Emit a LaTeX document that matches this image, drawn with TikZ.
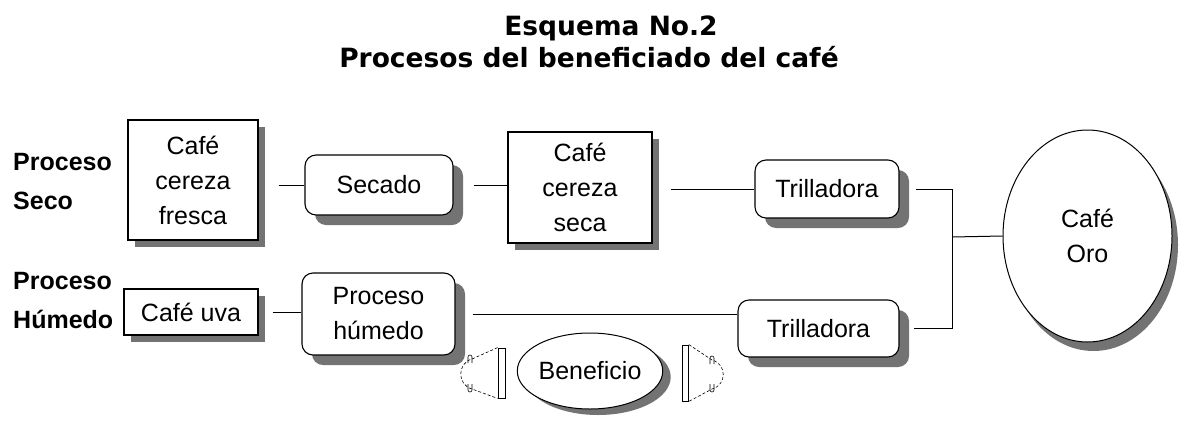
\documentclass[tikz,border=0pt]{standalone}
\usepackage{fontspec}
\setmainfont{Liberation Sans}
\newfontfamily\titlefont{DejaVu Sans}
\usetikzlibrary{shapes.geometric,shadows}
\definecolor{shadowgray}{gray}{0.45}
\begin{document}
\begin{tikzpicture}[x=1pt,y=-1pt,
  txt/.style={font=\fontsize{25}{35}\selectfont, align=center, inner sep=0pt},
  lab/.style={font=\bfseries\fontsize{25}{39}\selectfont, align=left, inner sep=0pt, anchor=west},
  ttl/.style={font=\titlefont\bfseries\fontsize{26.5}{30}\selectfont, inner sep=0pt, anchor=base},
  sqbox/.style={txt, draw, line width=1.1pt, fill=white,
    drop shadow={shadow xshift=7pt, shadow yshift=-7pt, fill=shadowgray, opacity=1}},
  rbox/.style={txt, draw, line width=1.1pt, fill=white, rounded corners=11pt,
    drop shadow={shadow xshift=10pt, shadow yshift=-10pt, fill=shadowgray, opacity=1}},
  ellbox/.style={txt, draw, line width=1pt, fill=white, ellipse, inner sep=0pt},
  thinbar/.style={draw, line width=0.8pt, fill=white, inner sep=0pt},
  conn/.style={line width=1pt},
  dashline/.style={line width=0.6pt, densely dashed},
  tipmark/.style={line width=0.6pt}
]
\useasboundingbox (0,0) rectangle (1180,421);

% title
\node[ttl] (tit1) at (611,35) {Esquema No.2};
\node[ttl] (tit2) at (589,67) {Procesos del beneficiado del café};

% row labels
\node[lab] (lseco) at (13,182) {Proceso\\Seco};
\node[lab] (lhum) at (13,301) {Proceso\\Húmedo};

% dry process
\node[sqbox, minimum width=130pt, minimum height=120pt] (b1) at (193,180) {Café\\cereza\\fresca};
\node[rbox, minimum width=148pt, minimum height=60pt] (sec) at (379,185) {Secado};
\node[sqbox, minimum width=144pt, minimum height=111pt] (seca) at (580,187.5) {Café\\cereza\\seca};
\node[rbox, minimum width=144pt, minimum height=58pt] (t1) at (827,189) {Trilladora};

% wet process
\node[sqbox, minimum width=134pt, minimum height=46pt] (uva) at (191,312) {Café uva};
\node[rbox, minimum width=153pt, minimum height=82pt] (ph) at (378.5,314) {Proceso\\húmedo};
\node[rbox, minimum width=161pt, minimum height=57pt] (t2) at (818.5,328.5) {Trilladora};

% final product
\node[ellbox, minimum width=169pt, minimum height=212pt,
  drop shadow={shadow xshift=6pt, shadow yshift=-9pt, fill=shadowgray, opacity=1}] (oro) at (1087.5,236) {Café\\Oro};

% beneficio
\node[ellbox, minimum width=124pt, minimum height=76pt,
  drop shadow={shadow xshift=8pt, shadow yshift=-6pt, fill=shadowgray, opacity=1}] (ben) at (590,371) {Beneficio};
\node[thinbar, minimum width=7pt, minimum height=50pt] (rl) at (501.5,373) {};
\node[thinbar, minimum width=6pt, minimum height=56pt] (rr) at (685.5,373) {};
\coordinate (la1) at (472,359);
\coordinate (la2) at (472,389);
\coordinate (ra1) at (712,360);
\coordinate (ra2) at (712,389);
\draw[dashline] (rl.north west) -- (la1) .. controls (457,363) and (457,385) .. (la2) -- (rl.south west);
\draw[dashline] (rr.north east) -- (ra1) .. controls (727,364) and (727,385) .. (ra2) -- (rr.south east);
% small marks at the curl ends
\draw[tipmark] (468,363) -- (468,357) arc[start angle=180, end angle=0, radius=2pt] -- (472,363);
\draw[tipmark] (468,384) -- (468,390) arc[start angle=180, end angle=360, radius=2pt] -- (472,384);
\draw[tipmark] (710,364) -- (710,358) arc[start angle=180, end angle=0, radius=2pt] -- (714,364);
\draw[tipmark] (710,384) -- (710,390) arc[start angle=180, end angle=360, radius=2pt] -- (714,384);

% connectors
\draw[conn] ([xshift=20pt]b1.east |- sec.west) -- (sec.west);
\draw[conn] ([xshift=20pt]sec.east) -- (sec.east -| seca.west);
\draw[conn] ([xshift=18pt]seca.east |- t1.west) -- (t1.west);
\draw[conn] ([xshift=14pt]uva.east) -- (uva.east -| ph.west);
\draw[conn] ([xshift=17pt]ph.east) -- (ph.east -| t2.west);
\coordinate (jx) at (952,237);
\draw[conn] ([xshift=16pt]t1.east) -| (jx) |- ([xshift=14pt]t2.east);
\draw[conn] (jx) -- (oro.west);
\end{tikzpicture}
\end{document}
